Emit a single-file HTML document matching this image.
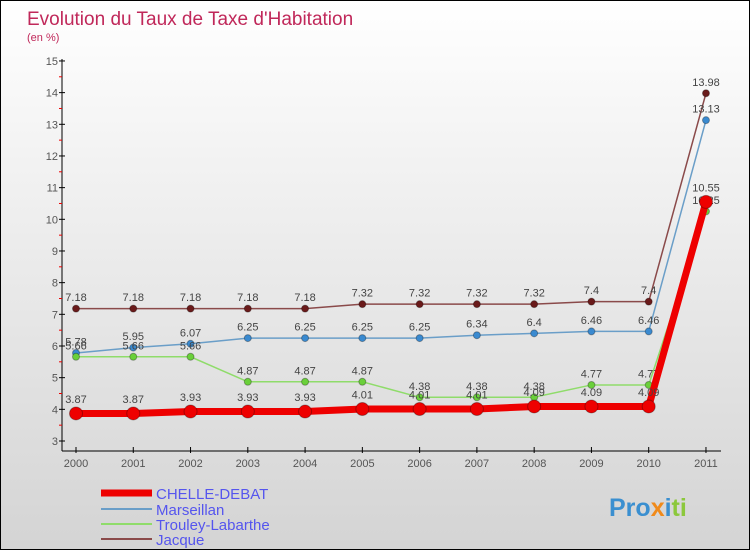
<!DOCTYPE html>
<html><head><meta charset="utf-8"><style>
body{margin:0}
#c{position:relative;width:748px;height:548px;border:1px solid #000;background:linear-gradient(#fff,#f2f2f2 30%,#d4d4d4);font-family:"Liberation Sans",sans-serif;overflow:hidden}
svg{position:absolute;left:0;top:0}
</style></head><body>
<div id="c">
<svg id="s" width="748" height="548">
<text x="26" y="24" font-size="19" fill="#c0285a">Evolution du Taux de Taxe d'Habitation</text>
<text x="26" y="40" font-size="11" fill="#c0285a">(en %)</text>
<g id="ax"></g><g id="ser"></g>
<g>
<line x1="100" y1="492" x2="151" y2="492" stroke="#e00" stroke-width="7"/>
<text x="155" y="498" font-size="15" fill="#5555ee">CHELLE-DEBAT</text>
<line x1="100" y1="508" x2="151" y2="508" stroke="#6a9ec8" stroke-width="2"/>
<text x="155" y="514" font-size="15" fill="#5555ee">Marseillan</text>
<line x1="100" y1="523" x2="151" y2="523" stroke="#8fdc6a" stroke-width="2"/>
<text x="155" y="529" font-size="15" fill="#5555ee">Trouley-Labarthe</text>
<line x1="100" y1="538" x2="151" y2="538" stroke="#8a4a4a" stroke-width="2"/>
<text x="155" y="544" font-size="15" fill="#5555ee">Jacque</text>
</g>
<text x="608" y="515" font-size="25" font-weight="bold"><tspan fill="#3a8fd0">Pro</tspan><tspan fill="#f08a1a">x</tspan><tspan fill="#3a8fd0">i</tspan><tspan fill="#8cc83c">ti</tspan></text>
</svg></div>
<script>
const years=[2000,2001,2002,2003,2004,2005,2006,2007,2008,2009,2010,2011];
const chelle=[3.87,3.87,3.93,3.93,3.93,4.01,4.01,4.01,4.09,4.09,4.09,10.55];
const marseillan=[5.78,5.95,6.07,6.25,6.25,6.25,6.25,6.34,6.4,6.46,6.46,13.13];
const trouley=[5.66,5.66,5.66,4.87,4.87,4.87,4.38,4.38,4.38,4.77,4.77,10.25];
const jacque=[7.18,7.18,7.18,7.18,7.18,7.32,7.32,7.32,7.32,7.4,7.4,13.98];
const yTicks=[3,4,5,6,7,8,9,10,11,12,13,14,15];
const NS="http://www.w3.org/2000/svg";
const X=i=>75+i*57.27, Y=v=>440-(v-3)*31.67;
function mk(t,a,p){const e=document.createElementNS(NS,t);for(const k in a)e.setAttribute(k,a[k]);p.appendChild(e);return e;}
const ax=document.getElementById('ax');
mk('line',{x1:61,y1:58,x2:61,y2:450,stroke:'#000'},ax);
mk('line',{x1:61,y1:450,x2:720,y2:450,stroke:'#000'},ax);
yTicks.forEach(v=>{
  mk('line',{x1:58,y1:Y(v),x2:64,y2:Y(v),stroke:'#000'},ax);
  if(v<15)mk('line',{x1:58,y1:Y(v+.5),x2:61,y2:Y(v+.5),stroke:'#e00'},ax);
  const t=mk('text',{x:57,y:Y(v)+4,'font-size':11,fill:'#555','text-anchor':'end'},ax);
  
  
  t.textContent=v;
});
years.forEach((y,i)=>{
  mk('line',{x1:X(i),y1:446,x2:X(i),y2:452,stroke:'#000'},ax);
  const t=mk('text',{x:X(i),y:466,'font-size':11,fill:'#555','text-anchor':'middle'},ax);
  
  
  t.textContent=y;
});
const ser=document.getElementById('ser');
function draw(data,name,col,dot,w,r){
  const g=mk('g',{},ser);
  
  
  mk('polyline',{points:data.map((v,i)=>X(i)+','+Y(v)).join(' '),fill:'none',stroke:col,'stroke-width':w},g);
  data.forEach((v,i)=>{
    const c=mk('circle',{cx:X(i),cy:Y(v),r:r,fill:dot,stroke:'rgba(0,0,0,.3)'},g);
    
    
    const t=mk('text',{x:X(i),y:Y(v)-(r+4),'font-size':11,fill:'#444','text-anchor':'middle'},g);
    
    
    t.textContent=v;
  });
}
draw(jacque,'jacque','#8a4a4a','#6a1a1a',1.5,3.5);
draw(marseillan,'marseillan','#6a9ec8','#3a8ad0',1.5,3.5);
draw(trouley,'trouley-labarthe','#8fdc6a','#6ad03a',1.5,3.5);
draw(chelle,'chelle-debat','#e00','#e00',7,6.5);
</script></body></html>
